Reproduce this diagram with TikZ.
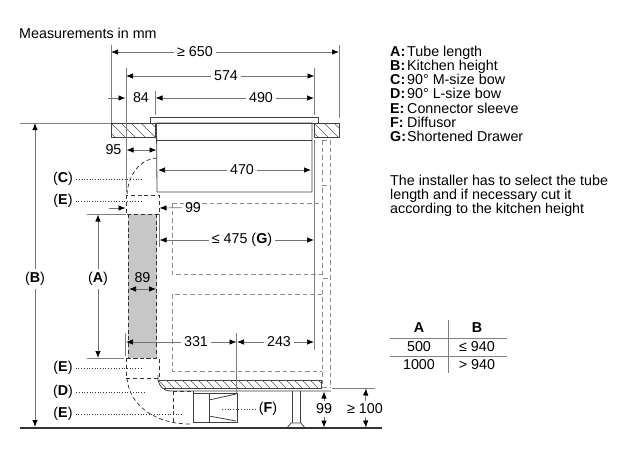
\documentclass[tikz,border=0pt]{standalone}
\usepackage{fontspec}
\setmainfont{Liberation Sans}
\usetikzlibrary{arrows.meta}

\tikzset{
  dimline/.style = {draw=black!55, line width=.7pt, -{Latex[length=7pt,width=5.5pt,black]}},
  bothline/.style = {draw=black!55, line width=.7pt, {Latex[length=7pt,width=5.5pt,black]}-{Latex[length=7pt,width=5.5pt,black]}},
  extline/.style = {draw=black!50, line width=.7pt},
  outline/.style = {draw=black!75, line width=.8pt},
  pipe/.style = {draw=black!80, line width=.75pt, dash pattern=on 4pt off 2.8pt},
  cabinet/.style = {draw=black!45, line width=.7pt, dash pattern=on 4.5pt off 3pt},
  leader/.style = {draw=black!80, line width=.8pt, dash pattern=on 1pt off 1.7pt},
  hatchline/.style = {draw=black!65, line width=.5pt}
}

\begin{document}
\begin{tikzpicture}[x=1pt, y=-1pt,
    every node/.style = {inner sep=3pt, font=\fontsize{14.3}{14.3}\selectfont, text=black}]
  \useasboundingbox (0,0) rectangle (632,472);

  % tube
  \fill[black!22] (128,214) rectangle (156.5,358);
  \draw[pipe] (128,214) -- (128,358) -- (156.5,358) -- (156.5,214);
  \draw[pipe] (126,195) rectangle (159,214);
  \draw[pipe] (126,358) rectangle (159,378);
  \draw[pipe] (157,158) .. controls (140,159) and (128,175) .. (127,195);
  \draw[pipe] (127,378) .. controls (129,405) and (155,424) .. (190,424);
  \draw[pipe] (173,391) -- (173,422);
  \draw[pipe] (173,391) -- (193,391) -- (193,423);

  % counter and hob
  \foreach \xa/\xb in {111/155, 314/339}{
    \begin{scope}
      \clip (\xa,123) rectangle (\xb,137);
      \foreach \i in {-20,-10,...,240}
        \draw[hatchline] (\xa+\i,123) -- (\xa+\i+14,137);
    \end{scope}
    \draw[outline] (\xa,123) rectangle (\xb,137);
  }
  \draw[outline] (150,123) -- (150,117) -- (318,117) -- (318,123) -- cycle;
  \draw[outline] (156.5,123) -- (312,123) -- (312,192) -- (157,192) -- cycle;
  \draw[outline] (156.5,140) -- (312,140);

  % drawers
  \draw[cabinet] (172,203) -- (322,203);
  \draw[cabinet] (172,203) -- (172,274) -- (322,274);
  \draw[cabinet] (322,294) -- (172,294) -- (172,371) -- (322,371);
  \draw[cabinet] (322,140) -- (322,185);
  \draw[cabinet] (322,188) -- (322,278);
  \draw[cabinet] (322,282) -- (322,387);
  \draw[cabinet] (330,140) -- (330,387);
  \draw[cabinet] (322,140) -- (330,140);
  \draw[cabinet] (322,185) -- (330,185);
  \draw[cabinet] (323,278) -- (330,278);
  \draw[cabinet] (322,387) -- (330,387);

  % plinth
  \begin{scope}
    \clip (158,380) rectangle (321,388);
    \foreach \i in {150,158,...,330}
      \draw[hatchline] (\i,380) -- (\i+8,388);
  \end{scope}
  \draw[outline] (158,380) -- (321,380) -- (321,388) -- (164,388);
  \draw[outline] (158,375) -- (158,380) .. controls (159,386) and (164,391) .. (170,391) -- (331,391);

  % diffusor and foot
  \draw[outline] (193,393) rectangle (237,422);
  \draw[outline] (209,393) -- (209,422);
  \draw[outline] (209,400) -- (236,394);
  \draw[outline] (209,416) -- (236,421);
  \draw[outline] (292,391) -- (292,423);
  \draw[outline] (300,391) -- (300,423);
  \draw[outline] (287,428) -- (291,423) -- (301,423) -- (305,428);
  \draw[draw=black!80, line width=1.1pt] (20,428) -- (382,428);

  % extension lines
  \draw[extline] (111,45) -- (111,123);
  \draw[extline] (339,45) -- (339,118);
  \draw[extline] (126,68) -- (126,192);
  \draw[extline] (314.5,68) -- (314.5,115);
  \draw[extline] (155,91) -- (155,115);
  \draw[extline] (314.5,140) -- (314.5,350);
  \draw[extline] (20,123) -- (111,123);
  \draw[extline] (87,214) -- (126,214);
  \draw[extline] (87,358) -- (124,358);
  \draw[extline] (125.5,333) -- (125.5,356);
  \draw[extline] (159,214) -- (159,247);
  \draw[extline] (236.5,333) -- (236.5,393);
  \draw[extline] (332,388) -- (375,388);

  % dimensions
  \coordinate (w650l) at (111,52);
  \coordinate (w650r) at (339,52);
  \node (w650) at (195,52) {≥ 650};
  \draw[dimline] (w650) -- (w650l);
  \draw[dimline] (w650) -- (w650r);

  \coordinate (w574l) at (126,76);
  \coordinate (w574r) at (314.5,76);
  \node (w574) at (226,76) {574};
  \draw[dimline] (w574) -- (w574l);
  \draw[dimline] (w574) -- (w574r);

  \coordinate (w84a) at (108,98);
  \coordinate (w84b) at (125.5,98);
  \node (w84) at (141,98) {84};
  \draw[dimline] (w84a) -- (w84b);

  \coordinate (w490l) at (155.5,98);
  \coordinate (w490r) at (314,98);
  \node (w490) at (261,98) {490};
  \draw[dimline] (w490) -- (w490l);
  \draw[dimline] (w490) -- (w490r);

  \coordinate (w95l) at (126.5,150);
  \coordinate (w95r) at (156.5,150);
  \node (w95) at (113.5,150) {95};
  \draw[bothline] (w95l) -- (w95r);

  \coordinate (w470l) at (158,170);
  \coordinate (w470r) at (311,170);
  \node (w470) at (242,170) {470};
  \draw[dimline] (w470) -- (w470l);
  \draw[dimline] (w470) -- (w470r);

  \coordinate (w99a) at (109,208);
  \coordinate (w99b) at (125.5,208);
  \draw[dimline] (w99a) -- (w99b);
  \coordinate (w99r) at (159.5,208);
  \node (w99) at (193,207.5) {99};
  \draw[dimline] (w99) -- (w99r);

  \coordinate (w475l) at (159.5,240);
  \coordinate (w475r) at (314,240);
  \node (w475) at (242,240) {≤ 475 (\textbf{G})};
  \draw[dimline] (w475) -- (w475l);
  \draw[dimline] (w475) -- (w475r);

  \node (w89) at (142.5,278) {89};
  \coordinate (w89l) at (129,289);
  \coordinate (w89r) at (156,289);
  \draw[bothline] (w89l) -- (w89r);

  \coordinate (w331l) at (126,342);
  \coordinate (w331r) at (236.5,342);
  \node (w331) at (196,342) {331};
  \draw[dimline] (w331) -- (w331l);
  \draw[dimline] (w331) -- (w331r);

  \coordinate (w243l) at (237,342);
  \coordinate (w243r) at (314,342);
  \node (w243) at (279,342) {243};
  \draw[dimline] (w243) -- (w243l);
  \draw[dimline] (w243) -- (w243r);

  \coordinate (hAt) at (98,214.5);
  \coordinate (hAb) at (98,358);
  \node (hA) at (98,279) {(\textbf{A})};
  \draw[dimline] (hA) -- (hAt);
  \draw[dimline] (hA) -- (hAb);

  \coordinate (hBt) at (35,123);
  \coordinate (hBb) at (35,427);
  \node (hB) at (35,279) {(\textbf{B})};
  \draw[dimline, line width=1pt] (hB) -- (hBt);
  \draw[dimline, line width=1pt] (hB) -- (hBb);

  \coordinate (h99t) at (324,391.5);
  \coordinate (h99b) at (324,427.5);
  \node (h99) at (324,409) {99};
  \draw[dimline] (h99) -- (h99t);
  \draw[dimline] (h99) -- (h99b);

  \coordinate (h100t) at (366,388.5);
  \coordinate (h100b) at (366,427.5);
  \node (h100) at (365,409) {≥ 100};
  \draw[dimline] (h100) -- (h100t);
  \draw[dimline] (h100) -- (h100b);

  % part labels
  \foreach \n/\lab/\ya/\xb in {lc/C/179/142, le/E/201/142, lf/E/368/142, ld/D/392/146, lg/E/414/182}{
    \node (\n) at (63,\ya) {(\textbf{\lab})};
    \coordinate (\n end) at (\xb,\ya);
    \draw[leader] (\n) -- (\n end);
  }
  \node (lF) at (268,409) {(\textbf{F})};
  \coordinate (lFend) at (222,409);
  \draw[leader] (lF) -- (lFend);

  % texts
  \node[anchor=base west, inner sep=0pt] (title) at (19,38) {Measurements in mm};
  \foreach \k/\txt/\ya in {A/Tube length/56, B/Kitchen height/70.3, C/90° M-size bow/84.6, D/90° L-size bow/98.9, E/Connector sleeve/113.2, F/Diffusor/127.5, G/Shortened Drawer/141.8}{
    \node[anchor=base west, inner sep=0pt] (key\k) at (390,\ya) {\textbf{\k:}};
    \node[anchor=base west, inner sep=0pt] (txt\k) at (407,\ya) {\txt};
  }
  \node[anchor=base west, inner sep=0pt] (noteA) at (390,185) {The installer has to select the tube};
  \node[anchor=base west, inner sep=0pt] (noteB) at (390,199.3) {length and if necessary cut it};
  \node[anchor=base west, inner sep=0pt] (noteC) at (390,213.6) {according to the kitchen height};

  % table
  \node (thA) at (419,328) {\textbf{A}};
  \node (thB) at (477,328) {\textbf{B}};
  \node (ta1) at (419,347) {500};
  \node (tb1) at (477,347) {≤ 940};
  \node (ta2) at (419,365) {1000};
  \node (tb2) at (477,365) {> 940};
  \draw[extline, line width=.9pt] (448,320) -- (448,373);
  \draw[extline, line width=.9pt] (390,338) -- (507,338);
  \draw[extline, line width=.9pt] (390,356) -- (507,356);
\end{tikzpicture}
\end{document}
